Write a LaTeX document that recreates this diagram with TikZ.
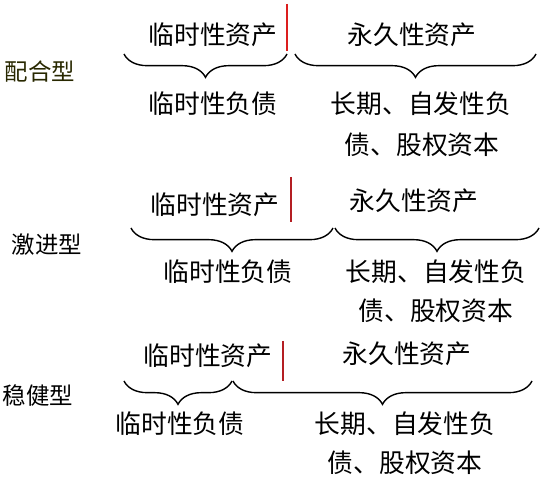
\documentclass[tikz,border=0pt]{standalone}
\usepackage{fontspec}
\setmainfont{Noto Sans CJK SC}
\usetikzlibrary{decorations.pathreplacing}
\definecolor{darkolive}{RGB}{40,40,0}
\definecolor{barred}{RGB}{220,30,30}
\definecolor{darkred}{RGB}{180,30,35}
\begin{document}
\begin{tikzpicture}[x=0.03cm,y=-0.03cm,
    every node/.style={inner sep=0pt,font=\fontsize{22}{26}\selectfont},
    kind/.style={font=\fontsize{20}{24}\selectfont},
    bracket/.style={draw,decorate,decoration={brace,mirror,amplitude=0.7cm},line width=1.2pt},
    divider/.style={line width=1.6pt}]
    \useasboundingbox (0,0) rectangle (547,487);

    % 配合型
    \node[kind,text=darkolive] (K1) at (40,72) {配合型};
    \node (TA1) at (213,35) {临时性资产};
    \node (PA1) at (412,35) {永久性资产};
    \node (TL1) at (213,104) {临时性负债};
    \node (LL1) at (421,104) {长期、自发性负};
    \node (EQ1) at (422,145) {债、股权资本};
    \coordinate (R1a) at (287,4);
    \coordinate (R1b) at (287,51);
    \coordinate (B1a) at (124,54);
    \coordinate (B1b) at (287,54);
    \coordinate (B1c) at (295,54);
    \coordinate (B1d) at (536,54);
    \path[draw=barred,divider] (R1a) -- (R1b);
    \path[bracket] (B1a) -- (B1b);
    \path[bracket] (B1c) -- (B1d);

    % 激进型
    \node[kind] (K2) at (47,245) {激进型};
    \node (TA2) at (215,205) {临时性资产};
    \node (PA2) at (414,201) {永久性资产};
    \node (TL2) at (228,272) {临时性负债};
    \node (LL2) at (436,272) {长期、自发性负};
    \node (EQ2) at (436,311) {债、股权资本};
    \coordinate (R2a) at (291,177);
    \coordinate (R2b) at (291,222);
    \coordinate (B2a) at (131,228);
    \coordinate (B2b) at (333,228);
    \coordinate (B2c) at (335,228);
    \coordinate (B2d) at (539,228);
    \path[draw=darkred,divider] (R2a) -- (R2b);
    \path[bracket] (B2a) -- (B2b);
    \path[bracket] (B2c) -- (B2d);

    % 稳健型
    \node[kind] (K3) at (38,396) {稳健型};
    \node (TA3) at (208,356) {临时性资产};
    \node (PA3) at (407,354) {永久性资产};
    \node (TL3) at (180,424) {临时性负债};
    \node (LL3) at (405,424) {长期、自发性负};
    \node (EQ3) at (405,463) {债、股权资本};
    \coordinate (R3a) at (283,341);
    \coordinate (R3b) at (283,381);
    \coordinate (B3a) at (124,381);
    \coordinate (B3b) at (232,381);
    \coordinate (B3c) at (233,381);
    \coordinate (B3d) at (532,381);
    \path[draw=darkred,divider] (R3a) -- (R3b);
    \path[bracket] (B3a) -- (B3b);
    \path[bracket] (B3c) -- (B3d);
\end{tikzpicture}
\end{document}
